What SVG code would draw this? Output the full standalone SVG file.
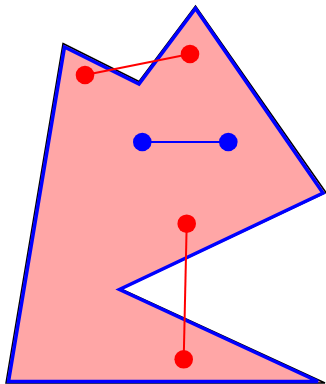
<svg xmlns="http://www.w3.org/2000/svg" width="326" height="384" viewBox="0 0 326 384">
<style>
.outer{fill:#ffa6a6;stroke:#000;stroke-width:1.5;stroke-linejoin:miter}
.inner{fill:none;stroke:#0000ff;stroke-width:3.5;stroke-linejoin:miter}
.red{stroke:#ff0000;stroke-width:2}
.blue{stroke:#0000ff;stroke-width:2}
.rdot{fill:#ff0000}
.bdot{fill:#0000ff}
</style>
<rect width="326" height="384" fill="#fff"/>
<g id="polygon">
<polygon class="outer" points="63,43.5 139,81.5 195.5,6 326,192.5 121,289 325,383 6,383"/>
<polygon class="inner" points="64.5,47 139,84 195.5,8.5 323,193 119.5,289.5 318,381.5 8.5,381.5"/>
</g>
<g id="connectors">
<line class="red" x1="85" y1="75" x2="190" y2="54"/>
<line class="blue" x1="142.3" y1="142" x2="228.3" y2="142"/>
<line class="red" x1="186.7" y1="223.7" x2="183.7" y2="359.3"/>
</g>
<g id="node-r1"><circle class="rdot" cx="85" cy="75" r="9.3"/></g>
<g id="node-r2"><circle class="rdot" cx="190" cy="54" r="9.3"/></g>
<g id="node-b1"><circle class="bdot" cx="142.3" cy="142" r="9.3"/></g>
<g id="node-b2"><circle class="bdot" cx="228.3" cy="142" r="9.3"/></g>
<g id="node-r3"><circle class="rdot" cx="186.7" cy="223.7" r="9.3"/></g>
<g id="node-r4"><circle class="rdot" cx="183.7" cy="359.3" r="9.3"/></g>
</svg>
